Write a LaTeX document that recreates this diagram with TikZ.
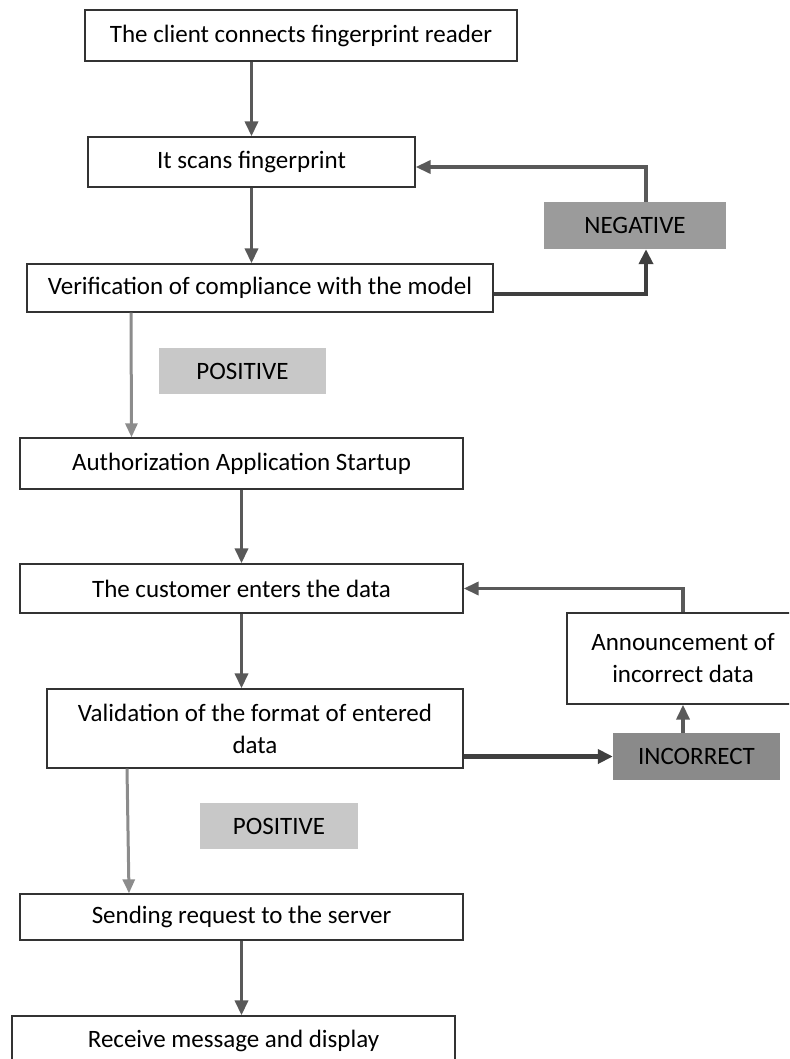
\documentclass[tikz,border=0pt]{standalone}
\usepackage{fontspec}
\setmainfont{Carlito}
\usepackage{tikz}
\usetikzlibrary{arrows.meta, positioning}

\definecolor{boxline}{HTML}{333333}
\definecolor{flowarrow}{HTML}{595959}
\definecolor{loopline}{HTML}{3F3F3F}
\definecolor{posarrow}{HTML}{8C8C8C}
\definecolor{negfill}{HTML}{9B9B9B}
\definecolor{posfill}{HTML}{C8C8C8}
\definecolor{incfill}{HTML}{8A8A8A}

\begin{document}
\begin{tikzpicture}[x=1pt, y=-1pt,
    stepbox/.style={draw=boxline, line width=1.3pt, fill=white, inner sep=2pt, align=center,
        font=\fontsize{25}{32}\selectfont},
    tagbox/.style={fill=#1, inner sep=2pt, align=center, font=\fontsize{25}{32}\selectfont},
    flow/.style={draw=flowarrow, line width=3.5pt, -{Triangle[width=13pt,length=15pt]}},
    posflow/.style={draw=posarrow, line width=3pt, -{Triangle[width=12pt,length=14pt]}},
    loop/.style={draw=loopline, line width=4.5pt, -{Triangle[width=14pt,length=15pt]}}]
    % page frame
    \useasboundingbox (0,0) rectangle (789,1059);
    \clip (0,0) rectangle (789,1059);
    % Steps
    \node[stepbox, minimum width=432pt, minimum height=51pt] (client) at (301,35.5) {The client connects fingerprint reader};
    \node[stepbox, minimum width=327pt, minimum height=50pt] (scan) at (251.5,162) {It scans fingerprint};
    \node[stepbox, minimum width=466pt, minimum height=48pt] (verify) at (260,288) {Verification of compliance with the model};
    \node[stepbox, minimum width=443pt, minimum height=51pt] (auth) at (241.5,463.5) {Authorization Application Startup};
    \node[stepbox, minimum width=443pt, minimum height=49pt] (enter) at (241.5,588.5) {The customer enters the data};
    \node[stepbox, minimum width=416pt, minimum height=79pt] (valid) at (255,728.5) {Validation of the format of entered\\data};
    \node[stepbox, minimum width=232pt, minimum height=91pt] (announce) at (683,658.5) {Announcement of\\incorrect data};
    \node[stepbox, minimum width=443pt, minimum height=46pt] (send) at (241.5,917) {Sending request to the server};
    \node[stepbox, minimum width=443pt, minimum height=50pt] (receive) at (233.5,1041) {Receive message and display};
    % Decision tags
    \node[tagbox=negfill, minimum width=182pt, minimum height=47pt] (neg) at (635,225.5) {NEGATIVE};
    \node[tagbox=posfill, minimum width=167pt, minimum height=46pt] (posA) at (242.5,371) {POSITIVE};
    \node[tagbox=incfill, minimum width=167pt, minimum height=47pt] (incor) at (696.5,756.5) {INCORRECT};
    \node[tagbox=posfill, minimum width=158pt, minimum height=46pt] (posB) at (279,826) {POSITIVE};
    % Main flow
    \draw[flow] (client.south -| scan.north) -- (scan.north);
    \draw[flow] (scan.south) -- (scan.south |- verify.north);
    \draw[posflow] ([xshift=-129pt]verify.south) -- ([xshift=-110pt]auth.north);
    \draw[flow] (auth.south) -- (enter.north);
    \draw[flow] (enter.south) -- (enter.south |- valid.north);
    \draw[posflow] ([xshift=-128pt]valid.south) -- ([xshift=-112.5pt]send.north);
    \draw[flow] (send.south) -- (send.south |- receive.north);
    % Retry loops
    \draw[loop] ([yshift=-6pt]verify.east) -| ([xshift=11pt]neg.south);
    \draw[flow] ([xshift=11pt]neg.north) |- ([yshift=-5pt]scan.east);
    \draw[loop] (valid.east |- incor.west) -- (incor.west);
    \draw[flow] (incor.north -| announce.south) -- (announce.south);
    \draw[flow] (announce.north) |- (enter.east);
\end{tikzpicture}
\end{document}
